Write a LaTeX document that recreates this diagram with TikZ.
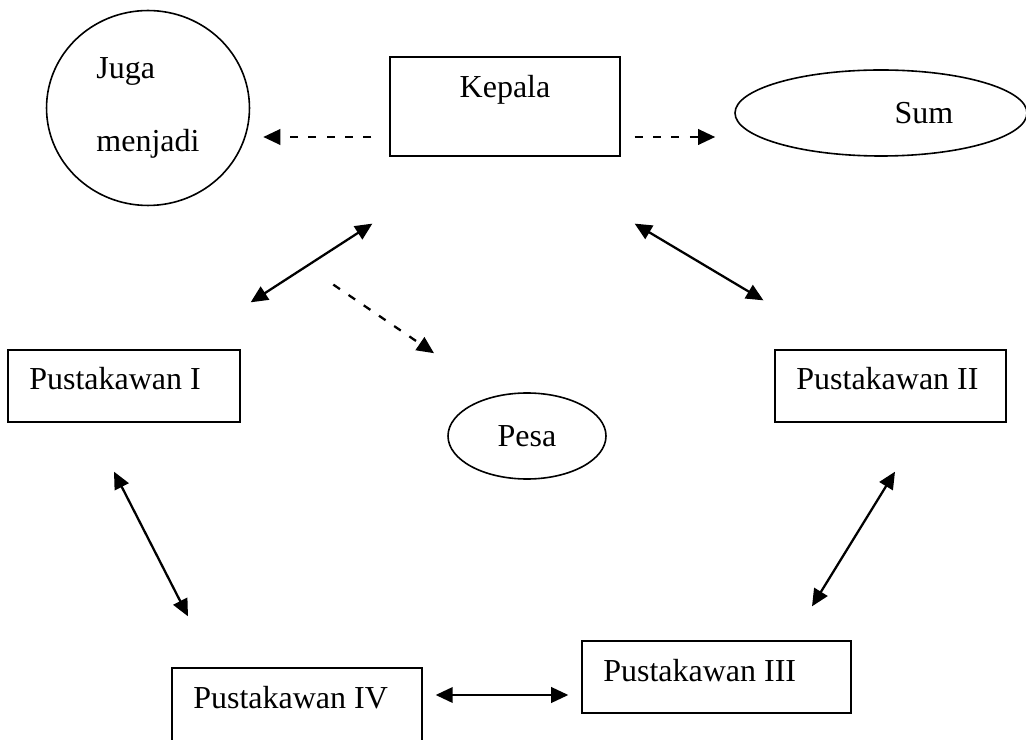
\documentclass[tikz,border=0pt]{standalone}
\usepackage{fontspec}
\setmainfont{Liberation Serif}
\usetikzlibrary{shapes,arrows.meta}
\tikzstyle{staffbox} = [draw, rectangle, line width=0.5pt,
    inner xsep=8pt, inner ysep=0pt, font=\fontsize{12pt}{14.5pt}\selectfont]
\tikzstyle{roundbox} = [draw, ellipse, line width=0.6pt, inner sep=0pt,
    font=\fontsize{12pt}{14.5pt}\selectfont]
\tikzstyle{link} = [line width=0.85pt, >={Triangle[length=6.4pt,width=5.8pt]}, <->]
\tikzstyle{dashlink} = [line width=0.85pt, dash pattern=on 3pt off 3.9pt,
    >={Triangle[length=6.4pt,width=5.8pt]}, ->]

\begin{document}
\begin{tikzpicture}[x=0.375pt,y=-0.375pt]
\useasboundingbox (0,0) rectangle (1026,740);

\node [staffbox] (kepala) at (505,106.5) {%
    \begin{minipage}[t][37.1pt][t]{70.25pt}
      \centering\rule{0pt}{15pt}Kepala
    \end{minipage}
};

\node [roundbox, minimum width=76.1pt, minimum height=73.1pt, align=left,
    font=\fontsize{12pt}{27.4pt}\selectfont] (juga) at (148,108) {Juga\\menjadi};
\node [roundbox, minimum width=109.5pt, minimum height=32.25pt] (sum) at (881,113) {\hspace*{32.25pt}Sum};
\node [roundbox, minimum width=59.25pt, minimum height=32.25pt] (pesa) at (527,436) {Pesa};

\node [staffbox] (pust1) at (124,386) {%
    \begin{minipage}[t][27pt][t]{71pt}
      \rule{0pt}{15pt}Pustakawan I
    \end{minipage}
};
\node [staffbox] (pust2) at (890.5,386) {%
    \begin{minipage}[t][27pt][t]{70.6pt}
      \rule{0pt}{15pt}Pustakawan II
    \end{minipage}
};
\node [staffbox] (pust3) at (716.5,677) {%
    \begin{minipage}[t][27pt][t]{84.9pt}
      \rule{0pt}{15pt}Pustakawan III
    \end{minipage}
};
\node [staffbox] (pust4) at (297,706) {%
    \begin{minipage}[t][28.5pt][t]{77.75pt}
      \rule{0pt}{15pt}Pustakawan IV
    \end{minipage}
};

\draw [dashlink] ([shift={(-18,30.5)}]kepala.west) -- ([shift={(13,29)}]juga.east);
\draw [dashlink] ([shift={(14,30.5)}]kepala.east) -- ([shift={(-19,24)}]sum.west);
\draw [dashlink] ([shift={(-56,128)}]kepala.south west) -- ([shift={(-93,-39)}]pesa.north);

\draw [link] ([shift={(-17,67)}]kepala.south west) -- ([shift={(10,-47)}]pust1.north east);
\draw [link] ([shift={(14,67)}]kepala.south east) -- ([shift={(-11,-49)}]pust2.north west);
\draw [link] ([shift={(-10,49)}]pust1.south) -- ([shift={(-109,-51)}]pust4.north);
\draw [link] ([shift={(4.5,49)}]pust2.south) -- ([shift={(95.5,-34)}]pust3.north);
\draw [link] ([shift={(13,-11)}]pust4.east) -- ([shift={(-13,18)}]pust3.west);

\end{tikzpicture}
\end{document}
